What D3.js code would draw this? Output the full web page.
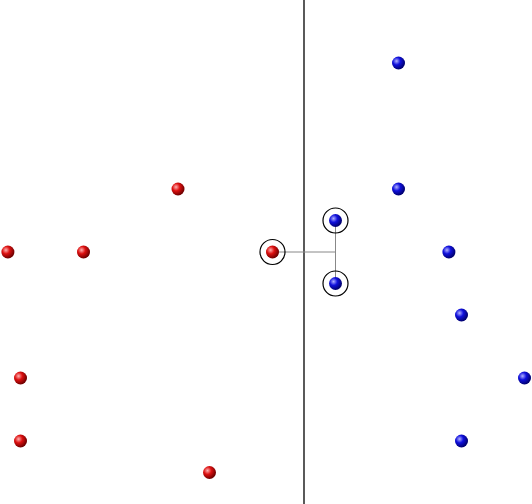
<!DOCTYPE html>
<html><head><meta charset="utf-8">
<script src="https://cdn.jsdelivr.net/npm/d3@7"></script>
<style>body{margin:0;background:#fff}</style>
</head><body><div id="chart"></div>
<script>
const redX = [-4.7, -3.5, -2.0, -0.5, -4.5, -4.5, -1.5]
const redY = [0, 0, 1, 0, -2, -3, -3.5]
const blueX = [1.5, 1.5, 0.5, 0.5, 2.3, 2.5, 3.5, 2.5]
const blueY = [3, 1, 0.5, -0.5, 0, -1, -2, -3]
const supportRed = [3]
const supportBlue = [2, 3]

const W = 532, H = 504
const x = d3.scaleLinear().domain([-303 / 63, 229 / 63]).range([1, W + 1])
const y = d3.scaleLinear().domain([251 / 63, -253 / 63]).range([1, H + 1])

const svg = d3.select('#chart').append('svg').attr('width', W).attr('height', H)
const defs = svg.append('defs')
function grad (id, light, mid, dark) {
  const g = defs.append('radialGradient').attr('id', id)
    .attr('cx', '35%').attr('cy', '35%').attr('r', '65%')
  g.append('stop').attr('offset', '0%').attr('stop-color', light)
  g.append('stop').attr('offset', '45%').attr('stop-color', mid)
  g.append('stop').attr('offset', '100%').attr('stop-color', dark)
}
grad('gr', '#ffb0b0', '#dd1010', '#700000')
grad('gb', '#b0b0ff', '#1010dd', '#000070')

// separator
svg.append('line').attr('x1', x(0)).attr('x2', x(0)).attr('y1', 0).attr('y2', H)
  .attr('stroke', '#000').attr('stroke-width', 1.3)

// margin links
const r0 = supportRed[0]
svg.append('line').attr('x1', x(redX[r0])).attr('y1', y(redY[r0]))
  .attr('x2', x(blueX[supportBlue[0]])).attr('y2', y(redY[r0]))
  .attr('stroke', '#888').attr('stroke-width', 1)
svg.append('line').attr('x1', x(blueX[supportBlue[0]])).attr('y1', y(blueY[supportBlue[0]]))
  .attr('x2', x(blueX[supportBlue[1]])).attr('y2', y(blueY[supportBlue[1]]))
  .attr('stroke', '#888').attr('stroke-width', 1)

function pts (xs, ys, sv, fill) {
  const d = xs.map((v, i) => ({ x: v, y: ys[i], sv: sv.includes(i) }))
  svg.append('g').selectAll('circle.ring').data(d.filter(p => p.sv)).join('circle')
    .attr('cx', p => x(p.x)).attr('cy', p => y(p.y)).attr('r', 12.5)
    .attr('fill', 'none').attr('stroke', '#000').attr('stroke-width', 1.2)
  svg.append('g').selectAll('circle.pt').data(d).join('circle')
    .attr('cx', p => x(p.x)).attr('cy', p => y(p.y)).attr('r', 6.5)
    .attr('fill', fill)
}
pts(redX, redY, supportRed, 'url(#gr)')
pts(blueX, blueY, supportBlue, 'url(#gb)')
</script></body></html>
